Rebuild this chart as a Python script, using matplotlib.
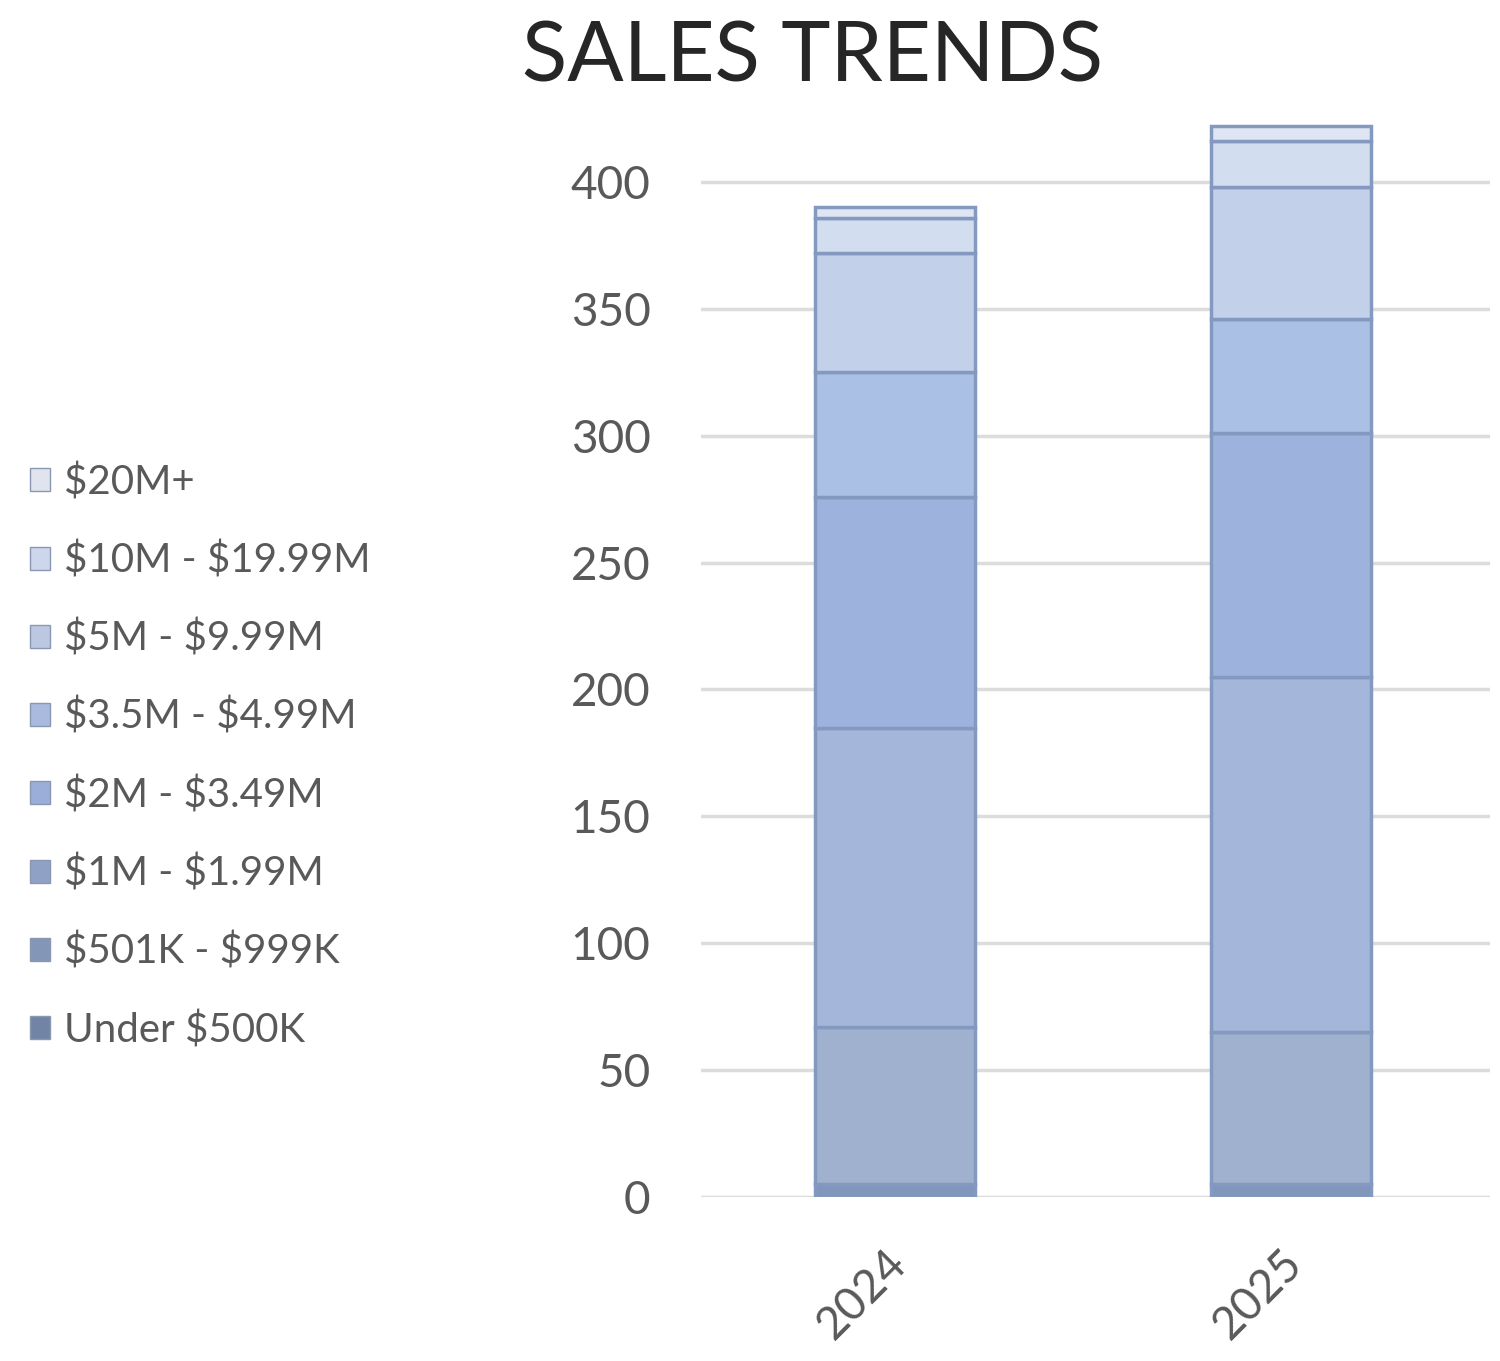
import matplotlib.pyplot as plt
from matplotlib.patches import Patch
from matplotlib.transforms import ScaledTranslation

plt.rcParams['font.family'] = ['Lato', 'DejaVu Sans']

# Years on the x axis
years = ["2024", "2025"]

# Price bands, stacked from bottom to top
bands = ["Under \\$500K", "\\$501K - \\$999K", "\\$1M - \\$1.99M", "\\$2M - \\$3.49M",
         "\\$3.5M - \\$4.99M", "\\$5M - \\$9.99M", "\\$10M - \\$19.99M", "\\$20M+"]

# Sales count per band (2024, 2025)
under_500k = [5, 5]
k501_999k = [62, 60]
m1_199 = [118, 140]
m2_349 = [91, 96]
m35_499 = [49, 45]
m5_999 = [47, 52]
m10_1999 = [14, 18]
m20_plus = [4, 6]

series = [under_500k, k501_999k, m1_199, m2_349, m35_499, m5_999, m10_1999, m20_plus]

# bar fill and legend swatch colours, bottom to top
fills = ["#8196bb", "#a0b0cf", "#a4b6da", "#9db3de", "#abc0e5", "#c3d0ea", "#d3ddf0", "#dfe5f2"]
swatches = ["#7284a6", "#8496b8", "#8fa2c6", "#9aaed9", "#a9bade", "#bcc8e2", "#cdd7eb", "#e0e4ee"]
edge = "#8499c0"

text_gray = "#595959"

fig = plt.figure(figsize=(15, 13.61), dpi=100)
ax = fig.add_axes([0.467, 0.1205, 0.526, 0.7924])

x = list(range(len(years)))
bottom = [0, 0]
for vals, c in zip(series, fills):
    ax.bar(x, vals, width=0.403, bottom=bottom, color=c, edgecolor=edge, linewidth=2.5, zorder=3)
    bottom = [b + v for b, v in zip(bottom, vals)]

ax.set_ylim(0, 425)
ax.set_xlim(-0.49, 1.5)
ax.set_yticks(range(0, 401, 50))
ax.yaxis.grid(True, color="#dcdcdc", linewidth=2.5, zorder=0)
ax.set_axisbelow(True)
for s in ax.spines.values():
    s.set_visible(False)

ax.tick_params(axis='y', length=0, pad=36, labelsize=33, labelcolor=text_gray)
ax.tick_params(axis='x', length=0, pad=32, labelsize=33, labelcolor=text_gray)
ax.set_xticks(x)
ax.set_xticklabels(years, rotation=45, ha='right', rotation_mode='anchor')
shift = ScaledTranslation(-10 / 100, 0, fig.dpi_scale_trans)
for lbl in ax.get_xticklabels():
    lbl.set_transform(lbl.get_transform() + shift)

fig.suptitle("SALES TRENDS", fontsize=60, color="#262626", x=0.542, y=0.985, va='top')

handles = [Patch(facecolor=c, edgecolor="#8a97b0", linewidth=1) for c in swatches]
leg = fig.legend(handles[::-1], bands[::-1], loc='center left', bbox_to_anchor=(-0.004, 0.4445),
                 frameon=False, fontsize=29, labelcolor=text_gray,
                 handlelength=0.5, handleheight=0.5, handletextpad=0.35, labelspacing=1.0)

fig.savefig("out.png", dpi=100)
plt.close(fig)
